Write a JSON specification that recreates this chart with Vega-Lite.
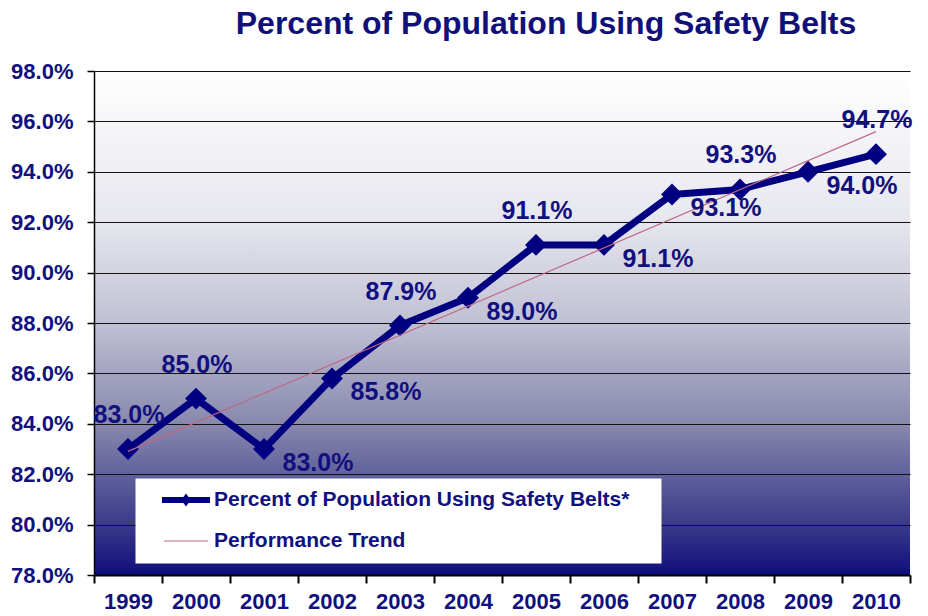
{
  "$schema": "https://vega.github.io/schema/vega-lite/v6.json",
  "width": 816,
  "height": 504,
  "autosize": {"type": "none"},
  "padding": {"left": 94, "top": 71, "right": 18, "bottom": 41},
  "background": "white",
  "view": {
    "stroke": null,
    "fill": {"expr": "{gradient: 'linear', x1: 0, y1: 0, x2: 0, y2: 1, stops: [{offset: 0, color: '#ffffff'}, {offset: 0.3, color: '#e6e6ee'}, {offset: 0.5, color: '#c0c0d4'}, {offset: 0.7, color: '#8888ae'}, {offset: 0.9, color: '#3a3a8a'}, {offset: 1, color: '#0e0e7c'}]}"}
  },
  "title": {
    "text": "Percent of Population Using Safety Belts",
    "font": "Liberation Sans",
    "fontSize": 32,
    "fontWeight": "bold",
    "color": "#10107a",
    "anchor": "middle",
    "dx": 44,
    "offset": 19
  },
  "data": {
    "values": [
      {"year": 1999, "value": 0.83},
      {"year": 2000, "value": 0.85},
      {"year": 2001, "value": 0.83},
      {"year": 2002, "value": 0.858},
      {"year": 2003, "value": 0.879},
      {"year": 2004, "value": 0.89},
      {"year": 2005, "value": 0.911},
      {"year": 2006, "value": 0.911},
      {"year": 2007, "value": 0.931},
      {"year": 2008, "value": 0.933},
      {"year": 2009, "value": 0.94},
      {"year": 2010, "value": 0.947}
    ]
  },
  "layer": [
    {
      "mark": {"type": "line", "strokeWidth": 7, "strokeJoin": "round"},
      "encoding": {
        "x": {
          "field": "year",
          "type": "ordinal",
          "scale": {"type": "band", "paddingInner": 0, "paddingOuter": 0},
          "axis": {
            "title": null,
            "labelFont": "Liberation Sans",
            "labelFontSize": 22,
            "labelFontWeight": "bold",
            "labelColor": "#10107e",
            "labelAngle": 0,
            "labelPadding": 8,
            "tickBand": "extent",
            "tickSize": 8,
            "tickColor": "#000000",
            "tickWidth": 2,
            "domainColor": "#000000",
            "domainWidth": 2,
            "grid": false
          }
        },
        "y": {
          "field": "value",
          "type": "quantitative",
          "scale": {"domain": [0.78, 0.98], "nice": false, "zero": false},
          "axis": {
            "title": null,
            "values": [0.78, 0.8, 0.82, 0.84, 0.86, 0.88, 0.9, 0.92, 0.94, 0.96, 0.98],
            "format": ".1%",
            "labelFont": "Liberation Sans",
            "labelFontSize": 22,
            "labelFontWeight": "bold",
            "labelColor": "#10107e",
            "labelPadding": 14,
            "tickSize": 7,
            "tickColor": "#000000",
            "tickWidth": 1.5,
            "domainColor": "#000000",
            "domainWidth": 1.5,
            "grid": true,
            "gridColor": "#111111",
            "gridWidth": 1.2
          }
        },
        "color": {
          "datum": "Percent of Population Using Safety Belts*",
          "type": "nominal",
          "scale": {
            "domain": ["Percent of Population Using Safety Belts*", "Performance Trend"],
            "range": ["#000080", "#c06684"]
          },
          "legend": {
            "orient": "none",
            "legendX": 41,
            "legendY": 407,
            "direction": "vertical",
            "title": null,
            "fillColor": "#ffffff",
            "strokeColor": "transparent",
            "padding": 2,
            "symbolOffset": 29,
            "symbolSize": 1600,
            "clipHeight": 40,
            "rowPadding": 1,
            "labelFont": "Liberation Sans",
            "labelFontSize": 21,
            "labelFontWeight": "bold",
            "labelColor": "#10107e",
            "labelOffset": 8,
            "labelLimit": 0,
            "labelExpr": "datum.label + '\u00a0\u00a0\u00a0\u00a0\u00a0\u200b'",
            "encode": {
              "symbols": {
                "update": {
                  "shape": {"signal": "datum.value === 'Performance Trend' ? 'M-1.1,-0.03H1.1V0.03H-1.1Z' : 'M-1.2,-0.15H1.2V0.15H-1.2Z M0,-0.32L0.24,0L0,0.32L-0.24,0Z'"},
                  "fill": {"signal": "datum.value === 'Performance Trend' ? '#c06684' : '#000080'"},
                  "stroke": {"value": "transparent"},
                  "strokeWidth": {"value": 0},
                  "opacity": {"value": 1},
                  "fillOpacity": {"value": 1}
                }
              }
            }
          }
        }
      }
    },
    {
      "mark": {"type": "point", "shape": "diamond", "filled": true, "size": 480, "color": "#000080", "opacity": 1},
      "encoding": {
        "x": {"field": "year", "type": "ordinal"},
        "y": {"field": "value", "type": "quantitative"}
      }
    },
    {
      "transform": [{"regression": "value", "on": "year"}],
      "mark": {"type": "line", "strokeWidth": 1.2},
      "encoding": {
        "x": {"field": "year", "type": "ordinal"},
        "y": {"field": "value", "type": "quantitative"},
        "color": {"datum": "Performance Trend", "type": "nominal"}
      }
    },
    {
      "transform": [{"filter": {"field": "year", "oneOf": [1999, 2000, 2003, 2005, 2008, 2010]}}],
      "mark": {"type": "text", "font": "Liberation Sans", "fontSize": 25, "fontWeight": "bold", "color": "#10107e", "align": "center", "baseline": "middle", "dx": 1, "dy": -34},
      "encoding": {
        "x": {"field": "year", "type": "ordinal"},
        "y": {"field": "value", "type": "quantitative"},
        "text": {"field": "value", "type": "quantitative", "format": ".1%"}
      }
    },
    {
      "transform": [{"filter": {"field": "year", "oneOf": [2001, 2002, 2004, 2006, 2007, 2009]}}],
      "mark": {"type": "text", "font": "Liberation Sans", "fontSize": 25, "fontWeight": "bold", "color": "#10107e", "align": "center", "baseline": "middle", "dx": 54, "dy": 14},
      "encoding": {
        "x": {"field": "year", "type": "ordinal"},
        "y": {"field": "value", "type": "quantitative"},
        "text": {"field": "value", "type": "quantitative", "format": ".1%"}
      }
    }
  ]
}
